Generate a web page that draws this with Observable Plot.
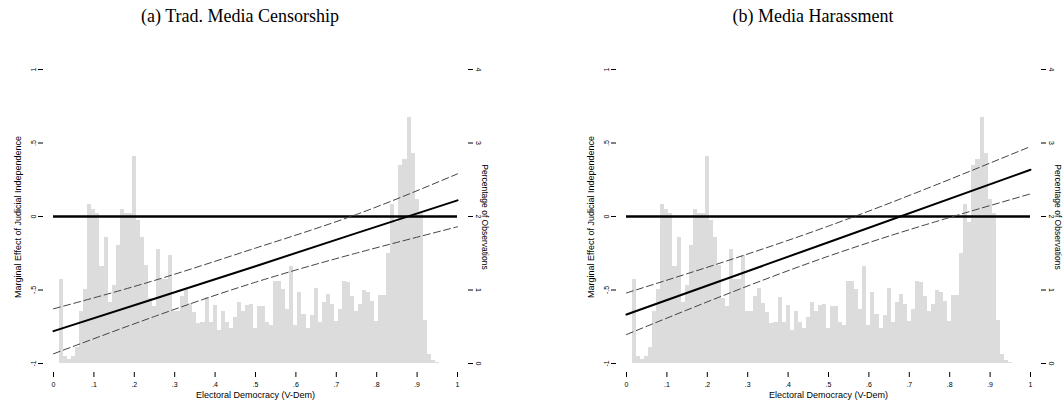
<!DOCTYPE html>
<html><head><meta charset="utf-8">
<script src="https://cdn.jsdelivr.net/npm/d3@7"></script>
<script src="https://cdn.jsdelivr.net/npm/@observablehq/plot@0.6"></script>
<style>
html,body{margin:0;padding:0;background:#fff;overflow:hidden;}
#root{position:relative;width:1064px;height:404px;}
.title{position:absolute;top:5px;line-height:22px;font-family:"Liberation Serif","Times New Roman",serif;font-size:18px;color:#000;white-space:nowrap;transform:translateX(-50%);}
.panel{position:absolute;top:35px;}
.panel svg{overflow:visible;}
</style></head><body><div id="root"></div>
<script>
const panelTitles = ["(a) Trad. Media Censorship", "(b) Media Harassment"];
const xLabel = "Electoral Democracy (V-Dem)";
const yLabelLeft = "Marginal Effect of Judicial Independence";
const yLabelRight = "Percentage of Observations";
const xTicks = [0, 0.1, 0.2, 0.3, 0.4, 0.5, 0.6, 0.7, 0.8, 0.9, 1];
const xTickLabels = ["0", ".1", ".2", ".3", ".4", ".5", ".6", ".7", ".8", ".9", "1"];
const yTicks = [-1, -0.5, 0, 0.5, 1];
const yTickLabels = ["-1", "-.5", "0", ".5", "1"];
const pctTickLabels = ["0", "1", "2", "3", "4"];

// histogram (percentage of observations), bins of width .01
const binWidth = 0.01;
const binCenters = [
  0.02, 0.03, 0.04, 0.05, 0.06, 0.07, 0.08, 0.09, 0.10, 0.11,
  0.12, 0.13, 0.14, 0.15, 0.16, 0.17, 0.18, 0.19, 0.20, 0.21,
  0.22, 0.23, 0.24, 0.25, 0.26, 0.27, 0.28, 0.29, 0.30, 0.31,
  0.32, 0.33, 0.34, 0.35, 0.36, 0.37, 0.38, 0.39, 0.40, 0.41,
  0.42, 0.43, 0.44, 0.45, 0.46, 0.47, 0.48, 0.49, 0.50, 0.51,
  0.52, 0.53, 0.54, 0.55, 0.56, 0.57, 0.58, 0.59, 0.60, 0.61,
  0.62, 0.63, 0.64, 0.65, 0.66, 0.67, 0.68, 0.69, 0.70, 0.71,
  0.72, 0.73, 0.74, 0.75, 0.76, 0.77, 0.78, 0.79, 0.80, 0.81,
  0.82, 0.83, 0.84, 0.85, 0.86, 0.87, 0.88, 0.89, 0.90, 0.91,
  0.92, 0.93, 0.94, 0.95
];
const binPct = [
  1.14, 0.09, 0.05, 0.09, 0.22, 0.71, 1.01, 2.16, 2.10, 2.04,
  1.32, 1.71, 0.83, 1.06, 1.60, 2.10, 2.04, 2.04, 2.81, 1.95,
  1.72, 1.33, 0.88, 0.77, 1.55, 1.14, 1.14, 1.47, 0.71, 0.71,
  0.91, 1.02, 0.81, 0.69, 0.55, 0.56, 0.90, 0.56, 0.79, 0.45,
  0.71, 0.56, 0.47, 0.63, 0.83, 0.71, 0.79, 0.80, 0.47, 0.77,
  0.77, 0.56, 0.52, 1.11, 1.12, 1.01, 0.73, 1.32, 0.52, 0.96,
  0.66, 0.47, 0.65, 1.02, 0.56, 0.83, 0.94, 0.80, 0.57, 0.73,
  1.12, 1.10, 0.91, 0.71, 0.80, 1.00, 0.96, 0.84, 0.57, 0.93,
  0.93, 1.49, 2.16, 1.92, 2.69, 2.78, 3.35, 2.86, 2.23, 2.04,
  0.58, 0.12, 0.04, 0.02
];

// marginal effects, panel (a)
const xA = [0, 0.25, 0.5, 0.75, 1];
const estA = [-0.78, -0.56, -0.338, -0.113, 0.11];
const loA = [-0.934, -0.68, -0.447, -0.249, -0.07];
const hiA = [-0.628, -0.435, -0.215, 0.014, 0.29];
// marginal effects, panel (b)
const xB = [0, 0.5, 1];
const estB = [-0.667, -0.175, 0.318];
const loB = [-0.803, -0.27, 0.154];
const hiB = [-0.52, -0.065, 0.476];

const root = document.getElementById("root");
const hist = binCenters.map((c, j) => ({c, pct: binPct[j]}));
const fmt = (labels) => (d) => labels[yTicks.indexOf(d)];

function panel(xs, est, lo, hi) {
  const lineData = xs.map((x, j) => ({x, est: est[j], lo: lo[j], hi: hi[j]}));
  return Plot.plot({
    width: 491, height: 369,
    marginLeft: 43, marginRight: 24, marginTop: 34, marginBottom: 32,
    style: {fontFamily: '"Liberation Sans", Arial, sans-serif', fontSize: "7px", background: "transparent", overflow: "visible"},
    x: {domain: [0, 1], insetLeft: 10, insetRight: 10},
    y: {domain: [-1, 1], insetBottom: 9},
    marks: [
      Plot.rect(hist, {x1: d => d.c - binWidth / 2, x2: d => d.c + binWidth / 2, y1: -1, y2: d => -1 + d.pct / 2, fill: "#dcdcdc", shapeRendering: "crispEdges"}),
      Plot.ruleY([0], {x1: 0, x2: 1, stroke: "#000", strokeWidth: 2.4}),
      Plot.line(lineData, {x: "x", y: "hi", stroke: "#444", strokeWidth: 1, strokeDasharray: "7,3.5", curve: "natural"}),
      Plot.line(lineData, {x: "x", y: "lo", stroke: "#444", strokeWidth: 1, strokeDasharray: "7,3.5", curve: "natural"}),
      Plot.line(lineData, {x: "x", y: "est", stroke: "#000", strokeWidth: 2}),
      Plot.axisX({ticks: xTicks, tickFormat: d => xTickLabels[xTicks.indexOf(d)], tickSize: 5, tickPadding: 5, label: null}),
      Plot.axisY({anchor: "left", ticks: yTicks, tickFormat: fmt(yTickLabels), tickSize: 5, tickPadding: 3, tickRotate: -90, label: null}),
      Plot.axisY({anchor: "right", ticks: yTicks, tickFormat: fmt(pctTickLabels), tickSize: 5, tickPadding: 3, tickRotate: 90, lineAnchor: "bottom", label: null}),
      Plot.text([xLabel], {frameAnchor: "bottom", dy: 25, fontSize: 9, textAnchor: "middle"}),
      Plot.text([yLabelLeft], {frameAnchor: "left", dx: -25, dy: -4, rotate: -90, fontSize: 9, textAnchor: "middle"}),
      Plot.text([yLabelRight], {frameAnchor: "right", dx: 17, dy: -4, rotate: 90, fontSize: 8.5, textAnchor: "middle"})
    ]
  });
}

const specs = [
  {left: 0, titleX: 240, p: () => panel(xA, estA, loA, hiA)},
  {left: 573, titleX: 813, p: () => panel(xB, estB, loB, hiB)}
];
specs.forEach((s, i) => {
  const t = document.createElement("div");
  t.className = "title";
  t.style.left = s.titleX + "px";
  t.textContent = panelTitles[i];
  root.appendChild(t);
  const wrap = document.createElement("div");
  wrap.className = "panel";
  wrap.style.left = s.left + "px";
  wrap.appendChild(s.p());
  root.appendChild(wrap);
});
</script>
</body></html>
